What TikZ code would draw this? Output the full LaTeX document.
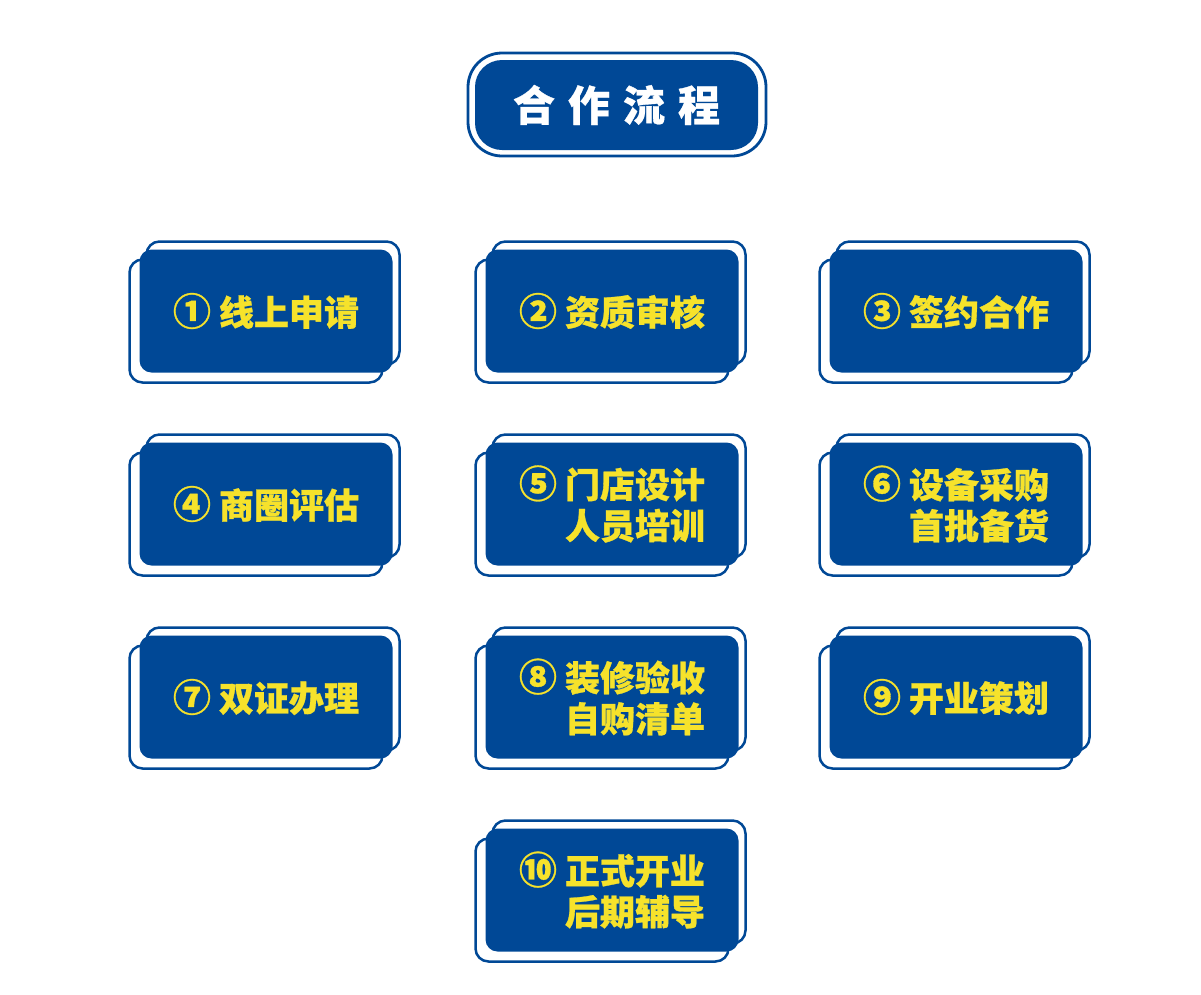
\documentclass[tikz,border=0pt]{standalone}
\usepackage{fontspec}
\newfontfamily\cjk{Noto Sans CJK SC}[FakeBold=0.8]
\definecolor{flowblue}{HTML}{004896}
\definecolor{flowyellow}{HTML}{F6E22B}
\newcommand\stepno[1]{{\fontsize{38}{42}\selectfont#1}}

\tikzset{
  card/.style={fill=flowblue, rounded corners=12pt, minimum width=253pt, minimum height=123pt,
    inner sep=0pt, text=flowyellow, align=right, font=\cjk\bfseries\fontsize{35}{41}\selectfont},
  frame/.style={draw=flowblue, line width=2.5pt, rounded corners=13pt},
}

\begin{document}
\begin{tikzpicture}[x=1pt,y=-1pt]
  \useasboundingbox (0,0) rectangle (1201,994);
  % title
  \draw[frame, line width=2.8pt, rounded corners=34pt] (468,53) rectangle (766,156);
  \node (title) at (616.5,105) [fill=flowblue, rounded corners=27pt, minimum width=283pt, minimum height=90pt,
    text=white, font=\cjk\bfseries\fontsize{42}{42}\selectfont] {合\hspace{13pt}作\hspace{13pt}流\hspace{13pt}程};

  % steps
  \foreach \n/\x/\y/\txt in {
    1/266/311/{\stepno{①} 线上申请},
    2/612/311/{\stepno{②} 资质审核},
    3/956/311/{\stepno{③} 签约合作},
    4/266/504/{\stepno{④} 商圈评估},
    5/612/504/{\stepno{⑤} 门店设计\\人员培训},
    6/956/504/{\stepno{⑥} 设备采购\\首批备货},
    7/266/697/{\stepno{⑦} 双证办理},
    8/612/697/{\stepno{⑧} 装修验收\\自购清单},
    9/956/697/{\stepno{⑨} 开业策划},
    10/612/890/{\stepno{⑩} 正式开业\\后期辅导}} {
    \draw[frame] (\x-119.5,\y-69.5) rectangle (\x+133.5,\y+53.5);
    \draw[frame] (\x-136.5,\y-51.5) rectangle (\x+116.5,\y+71.5);
    \node[card] (card\n) at (\x,\y) {\txt};
  }
\end{tikzpicture}
\end{document}
